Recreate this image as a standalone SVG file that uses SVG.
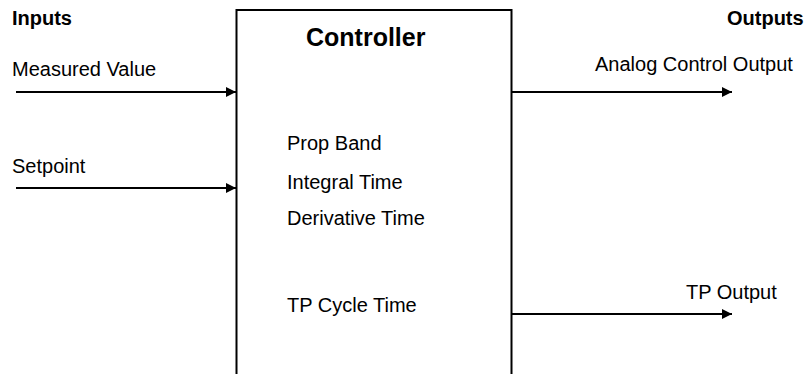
<svg xmlns="http://www.w3.org/2000/svg" width="808" height="374" viewBox="0 0 808 374">
  <style>
    .lbl { font-family: "Liberation Sans", Arial, sans-serif; font-size: 20px; fill: #000; }
    .hdr { font-family: "Liberation Sans", Arial, sans-serif; font-size: 20px; font-weight: bold; fill: #000; }
    .title { font-family: "Liberation Sans", Arial, sans-serif; font-size: 25px; font-weight: bold; fill: #000; }
    .wire { stroke: #000; stroke-width: 2; fill: none; marker-end: url(#arrow); }
    .box { stroke: #000; stroke-width: 2; fill: #fff; }
  </style>
  <defs>
    <marker id="arrow" markerUnits="userSpaceOnUse" markerWidth="11" markerHeight="11" refX="10" refY="5" orient="auto">
      <path d="M0,0 L10,5 L0,10 z" fill="#000"/>
    </marker>
  </defs>
  <rect width="808" height="374" fill="#fff"/>

  <!-- column headings -->
  <text class="hdr" x="12" y="25">Inputs</text>
  <text class="hdr" x="727" y="25">Outputs</text>

  <!-- controller block (open at the bottom) -->
  <g id="controller">
    <path class="box" d="M236.5,376 L236.5,10 L511.5,10 L511.5,376"/>
    <text class="title" x="306" y="46">Controller</text>
    <text class="lbl" x="287" y="150">Prop Band</text>
    <text class="lbl" x="287" y="189">Integral Time</text>
    <text class="lbl" x="287" y="225">Derivative Time</text>
    <text class="lbl" x="287" y="312">TP Cycle Time</text>
  </g>

  <!-- inputs -->
  <g id="measured-value">
    <text class="lbl" x="12" y="76">Measured Value</text>
  </g>
  <g id="setpoint">
    <text class="lbl" x="12" y="173">Setpoint</text>
  </g>

  <!-- outputs -->
  <g id="analog-output">
    <text class="lbl" x="595" y="71">Analog Control Output</text>
  </g>
  <g id="tp-output">
    <text class="lbl" x="686" y="299">TP Output</text>
  </g>

  <!-- signal lines -->
  <g id="connectors">
    <line class="wire" x1="16" y1="92" x2="236" y2="92"/>
    <line class="wire" x1="16" y1="188" x2="236" y2="188"/>
    <line class="wire" x1="512" y1="92" x2="732" y2="92"/>
    <line class="wire" x1="512" y1="314" x2="732" y2="314"/>
  </g>
</svg>
